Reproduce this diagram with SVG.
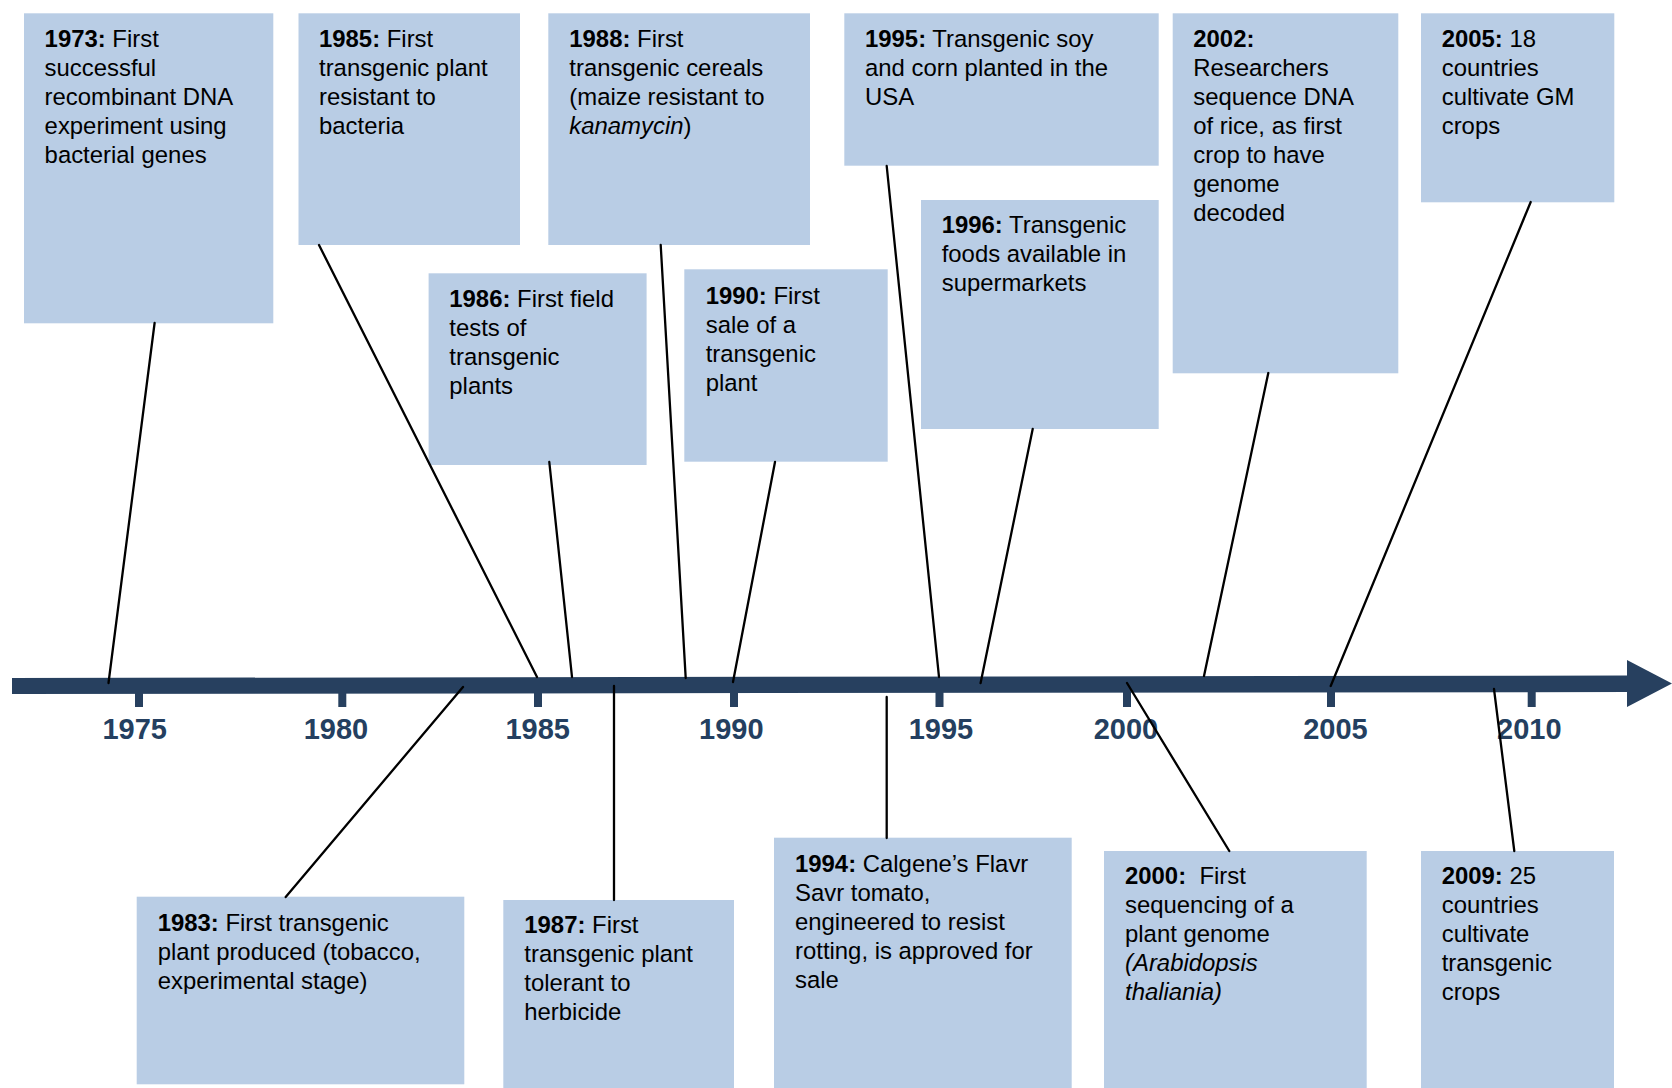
<svg xmlns="http://www.w3.org/2000/svg" width="1672" height="1088" viewBox="0 0 1672 1088">
<style>
.box{fill:#B9CDE5;}
.t{font-family:"Liberation Sans",Arial,sans-serif;font-size:23.9px;fill:#000;}
.b{font-weight:bold;}
.i{font-style:italic;}
.yr{font-family:"Liberation Sans",Arial,sans-serif;font-size:29px;font-weight:bold;fill:#243F60;text-anchor:middle;}
.axis{fill:#27405F;}
.con line{stroke:#000;stroke-width:2.3;stroke-linecap:round;}
</style>
<rect width="1672" height="1088" fill="#FFFFFF"/>
<g id="timeline">
<polygon class="axis" points="12,678 1627,675.5 1627,660 1672,683.5 1627,707 1627,692 12,694"/>
<rect class="axis" x="135" y="690" width="8" height="17"/>
<rect class="axis" x="338.3" y="690" width="8" height="17"/>
<rect class="axis" x="534" y="690" width="8" height="17"/>
<rect class="axis" x="730" y="690" width="8" height="17"/>
<rect class="axis" x="935.5" y="690" width="8" height="17"/>
<rect class="axis" x="1123" y="690" width="8" height="17"/>
<rect class="axis" x="1327" y="690" width="8" height="17"/>
<rect class="axis" x="1527.7" y="690" width="8" height="17"/>
<text class="yr" x="134.7" y="739">1975</text>
<text class="yr" x="336" y="739">1980</text>
<text class="yr" x="537.7" y="739">1985</text>
<text class="yr" x="731.3" y="739">1990</text>
<text class="yr" x="941" y="739">1995</text>
<text class="yr" x="1126" y="739">2000</text>
<text class="yr" x="1335.5" y="739">2005</text>
<text class="yr" x="1529.3" y="739">2010</text>
</g>
<g id="n1973">
<rect class="box" x="24" y="13.3" width="249.3" height="310"/>
<text class="t" x="44.6" y="46.7"><tspan class="b">1973:</tspan> First<tspan x="44.6" dy="29">successful</tspan><tspan x="44.6" dy="29">recombinant DNA</tspan><tspan x="44.6" dy="29">experiment using</tspan><tspan x="44.6" dy="29">bacterial genes</tspan></text>
</g>
<g id="n1985">
<rect class="box" x="298.5" y="13.3" width="221.5" height="231.7"/>
<text class="t" x="319" y="46.7"><tspan class="b">1985:</tspan> First<tspan x="319" dy="29">transgenic plant</tspan><tspan x="319" dy="29">resistant to</tspan><tspan x="319" dy="29">bacteria</tspan></text>
</g>
<g id="n1988">
<rect class="box" x="548.3" y="13.3" width="261.7" height="231.7"/>
<text class="t" x="569.3" y="46.7"><tspan class="b">1988:</tspan> First<tspan x="569.3" dy="29">transgenic cereals</tspan><tspan x="569.3" dy="29">(maize resistant to</tspan><tspan x="569.3" dy="29" class="i">kanamycin</tspan>)</text>
</g>
<g id="n1995">
<rect class="box" x="844.3" y="13.3" width="314.4" height="152.4"/>
<text class="t" x="865" y="46.7"><tspan class="b">1995:</tspan> Transgenic soy<tspan x="865" dy="29">and corn planted in the</tspan><tspan x="865" dy="29">USA</tspan></text>
</g>
<g id="n2002">
<rect class="box" x="1172.7" y="13.3" width="225.6" height="360"/>
<text class="t" x="1193.3" y="46.7"><tspan class="b">2002:</tspan><tspan x="1193.3" dy="29">Researchers</tspan><tspan x="1193.3" dy="29">sequence DNA</tspan><tspan x="1193.3" dy="29">of rice, as first</tspan><tspan x="1193.3" dy="29">crop to have</tspan><tspan x="1193.3" dy="29">genome</tspan><tspan x="1193.3" dy="29">decoded</tspan></text>
</g>
<g id="n2005">
<rect class="box" x="1421" y="13.3" width="193.3" height="189"/>
<text class="t" x="1441.7" y="46.7"><tspan class="b">2005:</tspan> 18<tspan x="1441.7" dy="29">countries</tspan><tspan x="1441.7" dy="29">cultivate GM</tspan><tspan x="1441.7" dy="29">crops</tspan></text>
</g>
<g id="n1986">
<rect class="box" x="428.6" y="273.3" width="218" height="191.7"/>
<text class="t" x="449.3" y="306.7"><tspan class="b">1986:</tspan> First field<tspan x="449.3" dy="29">tests of</tspan><tspan x="449.3" dy="29">transgenic</tspan><tspan x="449.3" dy="29">plants</tspan></text>
</g>
<g id="n1990">
<rect class="box" x="684.3" y="269.3" width="203.4" height="192.4"/>
<text class="t" x="705.7" y="304"><tspan class="b">1990:</tspan> First<tspan x="705.7" dy="29">sale of a</tspan><tspan x="705.7" dy="29">transgenic</tspan><tspan x="705.7" dy="29">plant</tspan></text>
</g>
<g id="n1996">
<rect class="box" x="921" y="200" width="237.7" height="229"/>
<text class="t" x="941.7" y="233.3"><tspan class="b">1996:</tspan> Transgenic<tspan x="941.7" dy="29">foods available in</tspan><tspan x="941.7" dy="29">supermarkets</tspan></text>
</g>
<g id="n1983">
<rect class="box" x="136.7" y="896.7" width="327.6" height="187.6"/>
<text class="t" x="157.7" y="930.7"><tspan class="b">1983:</tspan> First transgenic<tspan x="157.7" dy="29">plant produced (tobacco,</tspan><tspan x="157.7" dy="29">experimental stage)</tspan></text>
</g>
<g id="n1987">
<rect class="box" x="503.3" y="900" width="230.7" height="188"/>
<text class="t" x="524.3" y="933.3"><tspan class="b">1987:</tspan> First<tspan x="524.3" dy="29">transgenic plant</tspan><tspan x="524.3" dy="29">tolerant to</tspan><tspan x="524.3" dy="29">herbicide</tspan></text>
</g>
<g id="n1994">
<rect class="box" x="774" y="837.7" width="297.7" height="250.3"/>
<text class="t" x="795" y="871.7"><tspan class="b">1994:</tspan> Calgene’s Flavr<tspan x="795" dy="29">Savr tomato,</tspan><tspan x="795" dy="29">engineered to resist</tspan><tspan x="795" dy="29">rotting, is approved for</tspan><tspan x="795" dy="29">sale</tspan></text>
</g>
<g id="n2000">
<rect class="box" x="1104" y="851" width="262.7" height="237"/>
<text class="t" x="1125" y="884.3" xml:space="preserve"><tspan class="b">2000:</tspan>  First<tspan x="1125" dy="29">sequencing of a</tspan><tspan x="1125" dy="29">plant genome</tspan><tspan x="1125" dy="29" class="i">(Arabidopsis</tspan><tspan x="1125" dy="29" class="i">thaliania)</tspan></text>
</g>
<g id="n2009">
<rect class="box" x="1421" y="851" width="193" height="237"/>
<text class="t" x="1441.7" y="884.3"><tspan class="b">2009:</tspan> 25<tspan x="1441.7" dy="29">countries</tspan><tspan x="1441.7" dy="29">cultivate</tspan><tspan x="1441.7" dy="29">transgenic</tspan><tspan x="1441.7" dy="29">crops</tspan></text>
</g>
<g id="connectors" class="con">
<line x1="154.6" y1="323" x2="108.5" y2="683"/>
<line x1="319" y1="245" x2="537" y2="677"/>
<line x1="549.3" y1="462" x2="572" y2="677"/>
<line x1="660.7" y1="245" x2="685.7" y2="678"/>
<line x1="775" y1="462" x2="733" y2="682"/>
<line x1="886.7" y1="166" x2="939" y2="677"/>
<line x1="1032.7" y1="429" x2="980.6" y2="683"/>
<line x1="1268.3" y1="373" x2="1204" y2="676"/>
<line x1="1530.7" y1="202" x2="1330.7" y2="686"/>
<line x1="285.7" y1="897" x2="463" y2="687"/>
<line x1="614" y1="900" x2="614" y2="686"/>
<line x1="886.7" y1="838" x2="886.7" y2="697"/>
<line x1="1229.3" y1="851" x2="1127" y2="683"/>
<line x1="1514.3" y1="851" x2="1494" y2="689"/>
</g>
</svg>
